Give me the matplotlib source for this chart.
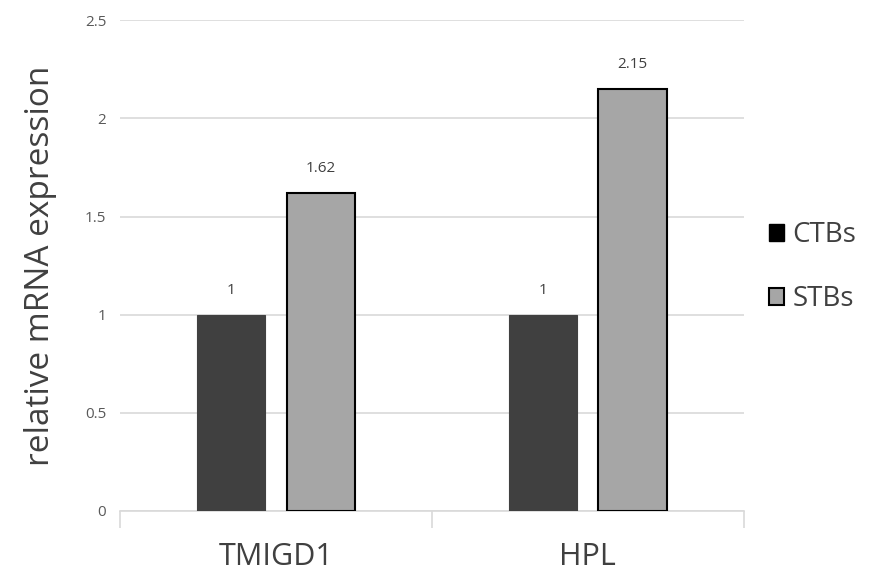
import matplotlib
matplotlib.use("Agg")
import matplotlib.pyplot as plt
from matplotlib.patches import Patch
import numpy as np

categories = ["TMIGD1", "HPL"]
ctbs = [1, 1]
stbs = [1.62, 2.15]
series_names = ["CTBs", "STBs"]
yticks = [0, 0.5, 1, 1.5, 2, 2.5]

plt.rcParams['font.family'] = ['Open Sans', 'DejaVu Sans']

fig = plt.figure(figsize=(8.77, 5.77), dpi=100)
ax = fig.add_axes([0.137, 0.1144, 0.711, 0.8506])

x = np.arange(len(categories))
w = 0.22
off = 0.144
b1 = ax.bar(x - off, ctbs, w, color="#404040", edgecolor="#404040", linewidth=0.8, zorder=3)
b2 = ax.bar(x + off, stbs, w, color="#a6a6a6", edgecolor="#000000", linewidth=1.5, zorder=3)

for bars, vals in ((b1, ctbs), (b2, stbs)):
    for r, v in zip(bars, vals):
        ax.annotate(f"{v:g}", (r.get_x() + r.get_width() / 2, v), xytext=(0, 12),
                    textcoords="offset points", ha="center", va="bottom",
                    fontsize=11, color="#404040")

ax.set_xlim(-0.5, 1.5)
ax.set_ylim(0, 2.5)
ax.set_yticks(yticks)
ax.set_yticklabels([f"{t:g}" for t in yticks], color="#595959", fontsize=11)
ax.tick_params(axis="y", length=0, pad=10)
ax.yaxis.grid(True, color="#d9d9d9", linewidth=1.2, zorder=0)
ax.set_axisbelow(True)

ax.set_xticks(x)
ax.set_xticklabels(categories, fontsize=22, color="#404040")
ax.set_xticks([-0.5, 0.5, 1.5], minor=True)
ax.tick_params(axis="x", which="major", length=0, pad=22)
ax.tick_params(axis="x", which="minor", length=12, color="#d9d9d9", width=1.2)

for s in ["top", "right", "left"]:
    ax.spines[s].set_visible(False)
ax.spines["bottom"].set_color("#d9d9d9")
ax.spines["bottom"].set_linewidth(1.2)

ax.set_ylabel("relative mRNA expression", fontsize=24, color="#404040", labelpad=20)

handles = [Patch(facecolor="#000000", edgecolor="#000000"),
           Patch(facecolor="#a6a6a6", edgecolor="#000000", linewidth=1.5)]
fig.legend(handles, series_names, loc="center left", bbox_to_anchor=(0.848, 0.537),
           frameon=False, fontsize=20, handlelength=0.55, handleheight=0.55,
           handletextpad=0.3, labelspacing=1.3, labelcolor="#404040")

fig.savefig("out.png", dpi=100)
